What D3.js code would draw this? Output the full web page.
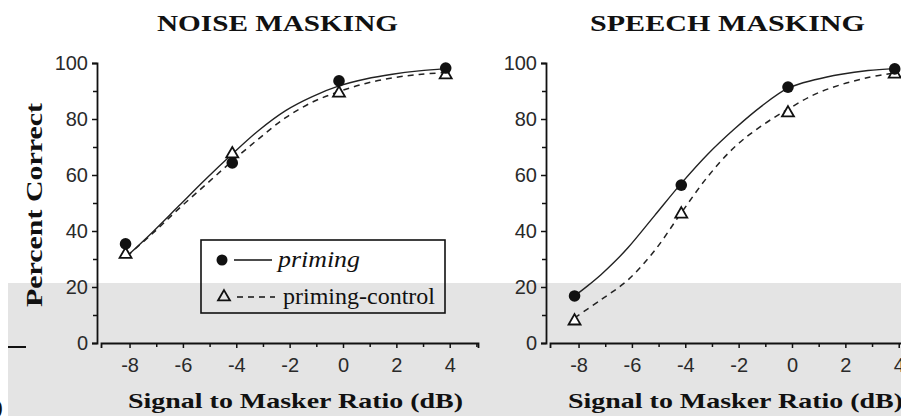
<!DOCTYPE html>
<html><head><meta charset="utf-8">
<script src="https://cdn.jsdelivr.net/npm/d3@7"></script>
<style>html,body{margin:0;padding:0;background:#fff;} svg{display:block;}</style>
</head><body><svg id="chart" width="901" height="416"></svg>
<script>
// ---- data ----
const panelTitles = ["NOISE MASKING", "SPEECH MASKING"];
const xValues = [-8, -4, 0, 4];
const noisePriming = [35.4, 64.3, 93.6, 98.2];
const noiseControl = [32, 67.9, 89.6, 96.1];
const speechPriming = [16.8, 56.4, 91.4, 97.9];
const speechControl = [8.2, 46.4, 82.5, 96.4];
// fitted psychometric curves
const noisePrimingFitX = [-7.95, -7, -6, -5, -4, -3, -2, -1, 0, 1, 2, 3, 4];
const noisePrimingFitY = [31, 39.5, 49, 58.5, 67.5, 76, 83, 88, 91.8, 94.3, 96, 97.2, 98];
const noiseControlFitX = [-7.95, -7, -6, -5, -4, -3, -2, -1, 0, 1, 2, 3, 4];
const noiseControlFitY = [31, 39, 48, 56.5, 65, 73, 80.5, 86, 89.8, 92.7, 94.7, 95.9, 96.6];
const speechPrimingFitX = [-8, -7.5, -7, -6.5, -6, -5, -4, -3, -2, -1, 0, 1, 2, 3, 4];
const speechPrimingFitY = [16.8, 20.5, 24.5, 29, 34, 45.5, 57, 67.5, 76.5, 84.5, 91, 94, 96, 97.3, 98];
const speechControlFitX = [-8, -7, -6, -5, -4, -3, -2, -1, 0, 1, 2, 3, 4];
const speechControlFitY = [9, 15.5, 22.5, 33, 46.5, 59.5, 70, 77.5, 83.5, 88.8, 92.3, 94.8, 96.5];
const xTicks = [-8, -6, -4, -2, 0, 2, 4];
const xMinorTicks = [-7, -5, -3, -1, 1, 3, 5];
const yTicks = [0, 20, 40, 60, 80, 100];
const yMinorTicks = [10, 30, 50, 70, 90];
const legendLabels = ["priming", "priming-control"];
const yAxisTitle = "Percent Correct";
const xAxisTitle = "Signal to Masker Ratio (dB)";

// ---- drawing ----
const svg = d3.select("#chart");
const serif = "'Liberation Serif','Times New Roman',serif";
const sans = "'Liberation Sans',Arial,sans-serif";
const ink = "#111";

// scanned grey band
svg.append("rect").attr("x", 8).attr("y", 283).attr("width", 893).attr("height", 133).attr("fill", "#e4e4e4");

const y = d3.scaleLinear().domain([0, 100]).range([343, 63]);
const xDomain = [-9.07, 5.06];

const panels = [
  {title: panelTitles[0], range: [97, 474], titleX: 157, titleW: 241, xtX: 128,
   prim: noisePriming, ctrl: noiseControl,
   fitP: [noisePrimingFitX, noisePrimingFitY], fitC: [noiseControlFitX, noiseControlFitY]},
  {title: panelTitles[1], range: [546, 923], titleX: 590, titleW: 275, xtX: 568,
   prim: speechPriming, ctrl: speechControl,
   fitP: [speechPrimingFitX, speechPrimingFitY], fitC: [speechControlFitX, speechControlFitY]}
];

const tri = d3.symbol().type(d3.symbolTriangle).size(62);

panels.forEach((p, i) => {
  const x = d3.scaleLinear().domain(xDomain).range(p.range);
  const g = svg.append("g");

  // title
  g.append("text").attr("x", p.titleX).attr("y", 31)
    .attr("font-family", serif).attr("font-weight", "bold").attr("font-size", 23)
    .attr("textLength", p.titleW).attr("lengthAdjust", "spacingAndGlyphs")
    .attr("fill", ink).text(p.title);

  // y axis
  g.append("g").attr("transform", `translate(${p.range[0]},0)`)
    .call(d3.axisLeft(y).tickValues(yTicks).tickSize(5).tickPadding(4).tickFormat(d => String(d)));
  g.append("g").attr("transform", `translate(${p.range[0]},0)`)
    .call(d3.axisLeft(y).tickValues(yMinorTicks).tickSize(4).tickFormat(""))
    .call(s => s.select(".domain").remove());

  // x axis (scan band shifted a few px)
  g.append("g").attr("transform", `translate(4,${y(0)})`)
    .call(d3.axisBottom(x).tickValues(xTicks).tickSize(5).tickPadding(10).tickFormat(d => String(d)));
  g.append("g").attr("transform", `translate(4,${y(0)})`)
    .call(d3.axisBottom(x).tickValues(xMinorTicks).tickSize(4).tickFormat(""))
    .call(s => s.select(".domain").remove());

  g.selectAll(".domain").attr("stroke", ink).attr("stroke-width", 1.8);
  g.selectAll(".tick line").attr("stroke", ink).attr("stroke-width", 1.5);
  g.selectAll(".tick text").attr("font-family", sans).attr("font-size", 20).attr("fill", "#2a2a2a");

  // x axis title
  g.append("text").attr("x", p.xtX).attr("y", 408)
    .attr("font-family", serif).attr("font-weight", "bold").attr("font-size", 21)
    .attr("textLength", 335).attr("lengthAdjust", "spacingAndGlyphs")
    .attr("fill", ink).text(xAxisTitle);

  // fitted curves
  const line = d3.line().x(d => x(d[0])).y(d => y(d[1])).curve(d3.curveCatmullRom.alpha(0.5));
  const fitP = p.fitP[0].map((v, k) => [v, p.fitP[1][k]]);
  const fitC = p.fitC[0].map((v, k) => [v, p.fitC[1][k]]);
  g.append("path").datum(fitC).attr("d", line).attr("fill", "none")
    .attr("stroke", "#222").attr("stroke-width", 1.5).attr("stroke-dasharray", "6,5");
  g.append("path").datum(fitP).attr("d", line).attr("fill", "none")
    .attr("stroke", "#222").attr("stroke-width", 1.4);

  // markers
  g.selectAll(".tri").data(xValues.map((v, k) => [v, p.ctrl[k]])).enter().append("path")
    .attr("d", tri).attr("transform", d => `translate(${x(d[0])},${y(d[1]) + 1})`)
    .attr("fill", "#fff").attr("stroke", ink).attr("stroke-width", 1.8);
  g.selectAll(".dot").data(xValues.map((v, k) => [v, p.prim[k]])).enter().append("circle")
    .attr("cx", d => x(d[0])).attr("cy", d => y(d[1])).attr("r", 5.8).attr("fill", ink);
});

// y axis title
svg.append("text").attr("transform", "translate(42,307) rotate(-90)")
  .attr("font-family", serif).attr("font-weight", "bold").attr("font-size", 23)
  .attr("textLength", 204).attr("lengthAdjust", "spacingAndGlyphs")
  .attr("fill", ink).text(yAxisTitle);

// legend
const lg = svg.append("g");
lg.append("rect").attr("x", 201).attr("y", 240).attr("width", 244).attr("height", 73)
  .attr("fill", "none").attr("stroke", ink).attr("stroke-width", 1.6);
lg.append("circle").attr("cx", 222).attr("cy", 260).attr("r", 5.5).attr("fill", ink);
lg.append("line").attr("x1", 234).attr("x2", 272).attr("y1", 260).attr("y2", 260)
  .attr("stroke", ink).attr("stroke-width", 1.4);
lg.append("text").attr("x", 278).attr("y", 267).attr("font-family", serif).attr("font-style", "italic")
  .attr("font-size", 23).attr("textLength", 82).attr("lengthAdjust", "spacingAndGlyphs")
  .attr("fill", ink).text(legendLabels[0]);
lg.append("path").attr("d", tri).attr("transform", "translate(224,297)")
  .attr("fill", "none").attr("stroke", ink).attr("stroke-width", 1.8);
lg.append("line").attr("x1", 237).attr("x2", 275).attr("y1", 297).attr("y2", 297)
  .attr("stroke", ink).attr("stroke-width", 1.5).attr("stroke-dasharray", "6,5");
lg.append("text").attr("x", 283).attr("y", 304).attr("font-family", serif)
  .attr("font-size", 23).attr("textLength", 152).attr("lengthAdjust", "spacingAndGlyphs")
  .attr("fill", ink).text(legendLabels[1]);

// scan fragments at the left edge
svg.append("line").attr("x1", 8).attr("x2", 26).attr("y1", 347).attr("y2", 347)
  .attr("stroke", ink).attr("stroke-width", 2);
svg.append("text").attr("x", -4).attr("y", 414).attr("font-family", serif).attr("font-weight", "bold")
  .attr("font-size", 20).attr("fill", ink).text(")");
</script>
</body></html>
